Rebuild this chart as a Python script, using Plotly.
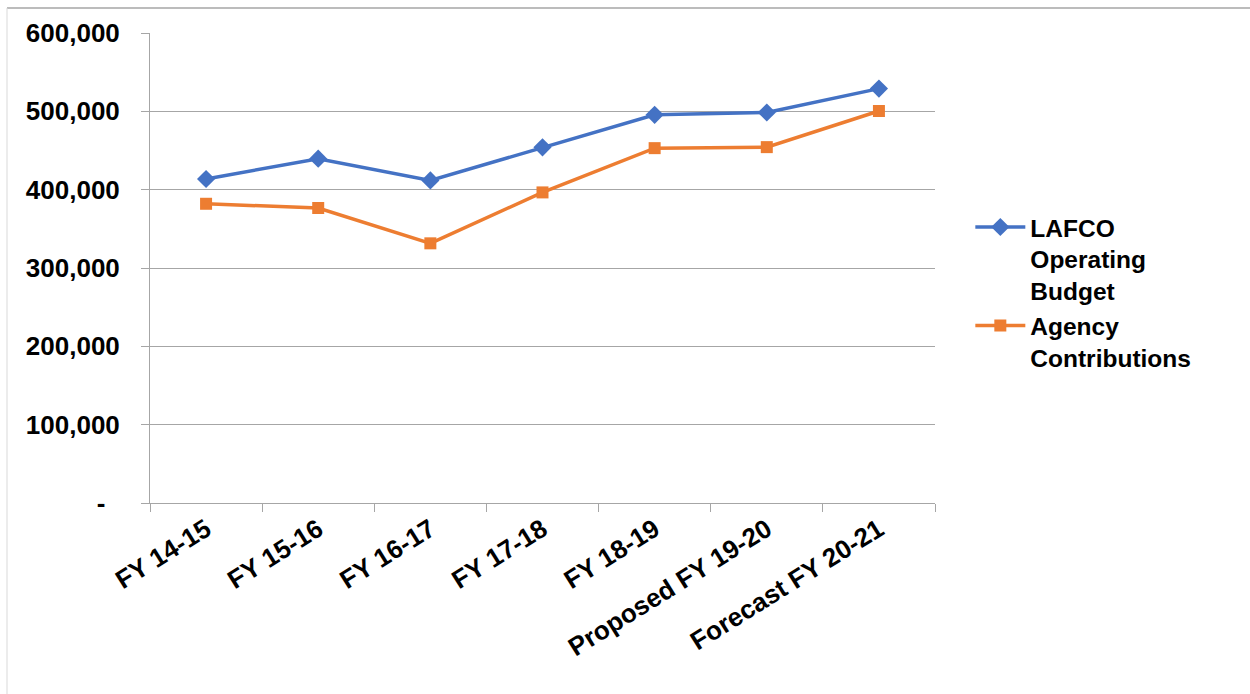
import plotly.graph_objects as go

categories = ["FY 14-15", "FY 15-16", "FY 16-17", "FY 17-18", "FY 18-19",
              "Proposed FY 19-20", "Forecast FY 20-21"]
lafco_budget = [413600, 439500, 411800, 454000, 495500, 498500, 529000]
agency_contrib = [382000, 376600, 331500, 396500, 453000, 454300, 500400]
y_tickvals = [0, 100000, 200000, 300000, 400000, 500000, 600000]
y_ticktext = ["-\u00a0\u00a0", "100,000", "200,000", "300,000", "400,000", "500,000", "600,000"]

FONT = "Liberation Sans, Arial, sans-serif"

fig = go.Figure()
fig.add_trace(go.Scatter(
    x=categories, y=lafco_budget, mode="lines+markers",
    name="LAFCO<br>Operating<br>Budget",
    line=dict(color="#4472C4", width=3.5),
    marker=dict(symbol="diamond", size=14, color="#4472C4"),
))
fig.add_trace(go.Scatter(
    x=categories, y=agency_contrib, mode="lines+markers",
    name="Agency<br>Contributions",
    line=dict(color="#ED7D31", width=3.5),
    marker=dict(symbol="square", size=12, color="#ED7D31"),
))

fig.update_layout(
    width=1250, height=694,
    margin=dict(l=150, r=315, t=33, b=191),
    paper_bgcolor="white", plot_bgcolor="white",
    font=dict(family=FONT, size=26, color="black"),
    showlegend=True,
    legend=dict(
        x=1.045, y=0.635, xanchor="left", yanchor="top",
        font=dict(family=FONT, size=24.5, color="black", weight="bold"),
        valign="top", tracegroupgap=0, itemwidth=50,
        bgcolor="rgba(0,0,0,0)",
    ),
    xaxis=dict(
        type="category", range=[-0.5, 6.5],
        showgrid=False, showline=True, linecolor="#a6a6a6", linewidth=1,
        ticks="outside", tickson="boundaries", ticklen=8, tickcolor="#a6a6a6",
        tickangle=-32,
        tickfont=dict(family=FONT, size=26, color="black", weight="bold"),
        zeroline=False,
    ),
    yaxis=dict(
        range=[0, 600000],
        tickvals=y_tickvals, ticktext=y_ticktext,
        showgrid=True, gridcolor="#a6a6a6", gridwidth=1,
        showline=True, linecolor="#a6a6a6", linewidth=1,
        ticks="outside", ticklen=8, tickcolor="#a6a6a6",
        ticklabelstandoff=16,
        tickfont=dict(family=FONT, size=26, color="black", weight="bold"),
        zeroline=False,
    ),
    shapes=[
        dict(type="line", xref="paper", yref="paper",
             x0=(7 - 150) / 785, x1=(1260 - 150) / 785,
             y0=(503 - 8) / 470, y1=(503 - 8) / 470,
             line=dict(color="#a6a6a6", width=1.5)),
        dict(type="line", xref="paper", yref="paper",
             x0=(7 - 150) / 785, x1=(7 - 150) / 785,
             y0=(503 - 8) / 470, y1=(503 - 700) / 470,
             line=dict(color="#d9d9d9", width=1)),
    ],
)

fig.write_html("out.html")
